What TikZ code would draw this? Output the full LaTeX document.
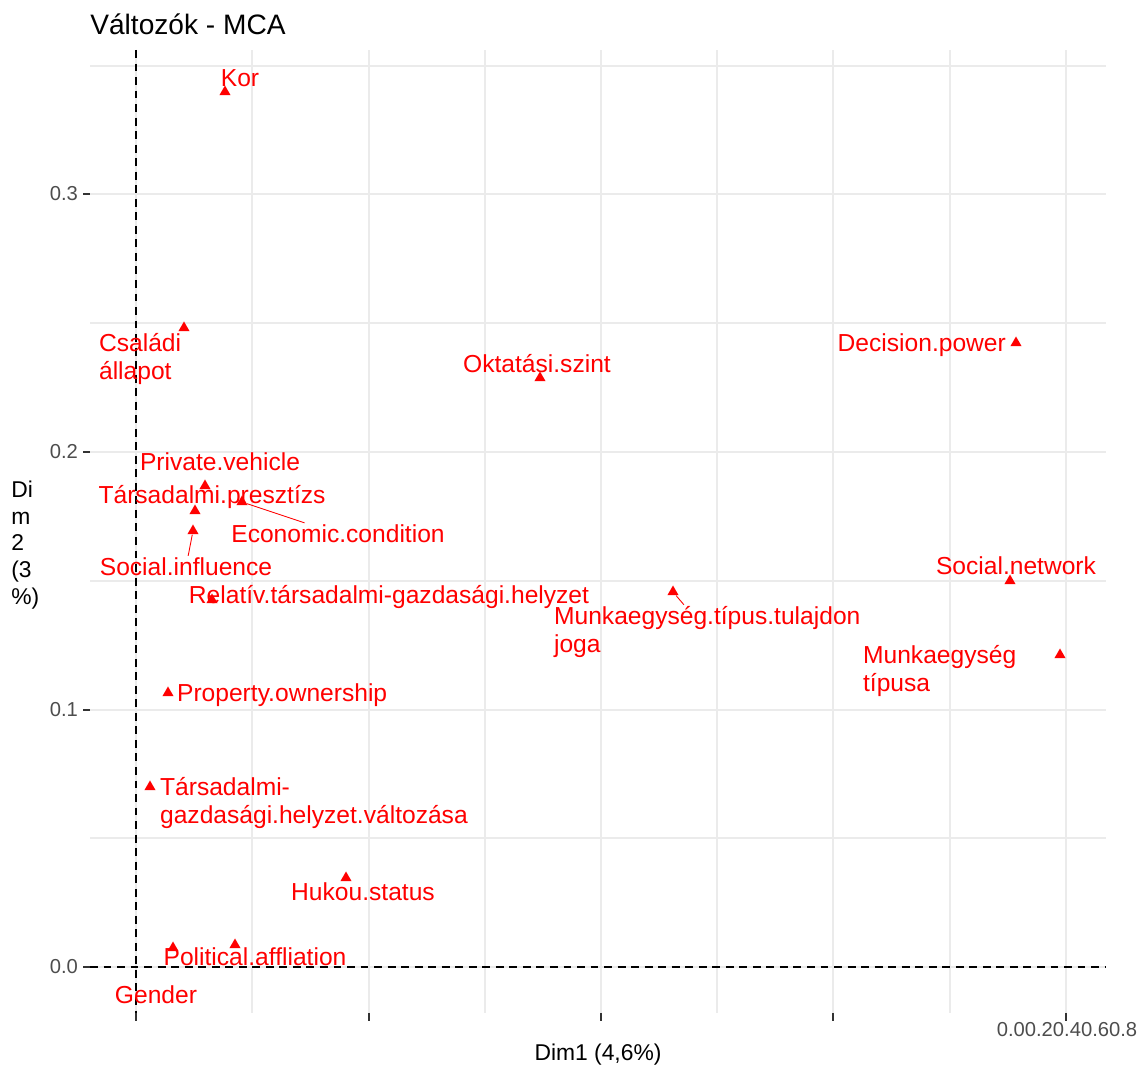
\documentclass[tikz,border=0pt]{standalone}
\usepackage{fontspec}
\setmainfont{Liberation Sans}
\usetikzlibrary{shapes.geometric}
\definecolor{gridgray}{HTML}{EBEBEB}
\definecolor{tickgray}{HTML}{4D4D4D}

\begin{document}
\begin{tikzpicture}
  [x=0.02cm,y=-0.02cm,
   lbl/.style={text=red,inner sep=1pt,font=\fontsize{14}{15.4}\selectfont},
   tri/.style={regular polygon,regular polygon sides=3,fill=red,inner sep=0pt,minimum size=0.26cm},
   ticklbl/.style={text=tickgray,inner sep=1pt,font=\fontsize{11.5}{14}\selectfont},
   zeroline/.style={black,line width=1.3pt,dash pattern=on 4.5pt off 3.2pt}]
  \useasboundingbox (0,0) rectangle (1144,1070);

  % grid
  \foreach \y in {66,323,581,838}
    \draw[gridgray,line width=0.6pt] (90,\y) -- (1106,\y);
  \foreach \y in {194,452,710,967}
    \draw[gridgray,line width=1.2pt] (90,\y) -- (1106,\y);
  \foreach \x in {252,485,717,950}
    \draw[gridgray,line width=0.6pt] (\x,50) -- (\x,1013);
  \foreach \x in {136,369,601,833,1066}
    \draw[gridgray,line width=1.2pt] (\x,50) -- (\x,1013);

  % axes at zero
  \draw[zeroline] (90,967) -- (1106,967);
  \draw[zeroline] (136,50) -- (136,1013);

  % ticks
  \foreach \y/\t in {194/0.3,452/0.2,710/0.1,967/0.0} {
    \draw[black!80,line width=1.2pt] (83,\y) -- (90,\y);
    \node[ticklbl,anchor=east] at (80,\y) {\t};
  }
  \foreach \x in {136,369,601,833,1066}
    \draw[black!80,line width=1.2pt] (\x,1013) -- (\x,1021);
  \node[ticklbl] (xticks) at (1067,1030) {0.00.20.40.60.8};

  % titles
  \node[anchor=west,inner sep=0pt,font=\fontsize{16}{18}\selectfont] (title) at (90,24) {Változók - MCA};
  \node[inner sep=0pt,font=\fontsize{13}{15}\selectfont] (xtitle) at (598,1055) {Dim1 (4,6\%)};
  \node[anchor=west,align=left,inner sep=0pt,font=\fontsize{13}{15.3}\selectfont] (ytitle) at (11,545) {Di\\m\\2\\(3\\\%)};

  % points
  \foreach \nm/\px/\py in {kor/225/92,csal/184/328,okt/540/378,dec/1016/343,priv/205/486,tars/195/511,econ/242/502,soc/193/531,rel/212/600,munt/673/592,socn/1010/581,munk/1060/655,prop/168/693,valt/150/787,huk/346/878,pol/235/945,gen/173/948}
    \node[tri] (p\nm) at (\px,\py) {};

  % labels
  \node[lbl] (kor) at (240,78) {Kor};
  \node[lbl,anchor=west,align=left] (csal) at (97,359) {Családi\\állapot};
  \node[lbl] (okt) at (537,364) {Oktatási.szint};
  \node[lbl,anchor=east] (dec) at (1008,345) {Decision.power};
  \node[lbl] (priv) at (220,462) {Private.vehicle};
  \node[lbl] (tars) at (212,497) {Társadalmi.presztízs};
  \node[lbl] (econ) at (338,534) {Economic.condition};
  \node[lbl] (soc) at (186,567) {Social.influence};
  \node[lbl] (rel) at (389,597) {Relatív.társadalmi-gazdasági.helyzet};
  \node[lbl,anchor=west,align=left] (munt) at (552,632) {Munkaegység.típus.tulajdon\\joga};
  \node[lbl] (socn) at (1016,566) {Social.network};
  \node[lbl,anchor=west,align=left] (munk) at (861,671) {Munkaegység\\típusa};
  \node[lbl,anchor=west] (prop) at (175,695) {Property.ownership};
  \node[lbl,anchor=west,align=left] (valt) at (158,803) {Társadalmi-\\gazdasági.helyzet.változása};
  \node[lbl] (huk) at (363,892) {Hukou.status};
  \node[lbl] (pol) at (255,957) {Political.affliation};
  \node[lbl] (gen) at (156,995) {Gender};

  % segments
  \foreach \a/\b in {pecon/econ,psoc/soc,pmunt/munt}
    \draw[red,line width=0.5pt] (\a) -- (\b);
\end{tikzpicture}
\end{document}
